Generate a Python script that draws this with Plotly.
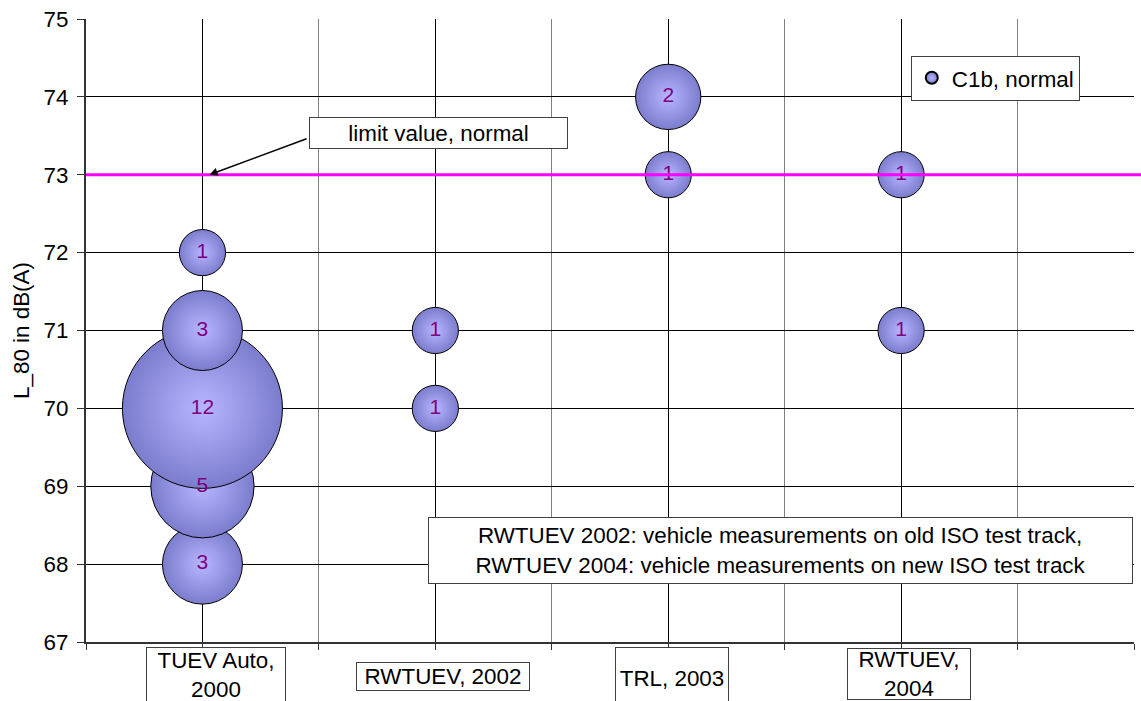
import plotly.graph_objects as go

# ---------------- data ----------------
SOURCES = ["TUEV Auto,<br>2000", "RWTUEV, 2002", "TRL, 2003", "RWTUEV,<br>2004"]
SOURCE_X = [1, 3, 5, 7]

BUBBLE_SOURCE = [0, 0, 0, 0, 0, 1, 1, 2, 2, 3, 3]
BUBBLE_L80 = [68, 69, 70, 71, 72, 70, 71, 73, 74, 71, 73]
BUBBLE_COUNT = [3, 5, 12, 3, 1, 1, 1, 1, 2, 1, 1]

LIMIT_VALUE = 73
SERIES_NAME = "C1b, normal"
LIMIT_LABEL = "limit value, normal"
NOTE_LINES = [
    "RWTUEV 2002: vehicle measurements on old ISO test track,",
    "RWTUEV 2004: vehicle measurements on new ISO test track",
]
Y_TITLE = "L_80 in dB(A)"
Y_RANGE = [67, 75]
X_RANGE = [0, 9]

# ---------------- styling ----------------
FONT = "Arial, 'Liberation Sans', sans-serif"
FS = 22.4

bx = [SOURCE_X[s] for s in BUBBLE_SOURCE]

fig = go.Figure()
fig.add_trace(go.Scatter(
    x=bx, y=BUBBLE_L80,
    mode="markers+text",
    text=[str(c) for c in BUBBLE_COUNT],
    textposition="middle center",
    textfont=dict(family=FONT, size=21, color="#800080"),
    marker=dict(
        size=BUBBLE_COUNT, sizemode="area", sizeref=1 / (2 * 23.1 ** 2),
        color="#7C7CCE",
        gradient=dict(type="radial", color="#B6B6FF"),
        line=dict(color="black", width=1),
        opacity=1,
    ),
    name=SERIES_NAME,
    showlegend=True,
    cliponaxis=False,
))

annotations = []
# category label boxes
xshifts = [14, 8, 4, 8]
widths = [138, 172, 112, 122]
heights = [54, 27, 60, 50]
yshifts = [-5, -20, -5, -6]
for i, lab in enumerate(SOURCES):
    annotations.append(dict(
        x=SOURCE_X[i], y=0, xref="x", yref="paper",
        xanchor="center", yanchor="top",
        xshift=xshifts[i], yshift=yshifts[i],
        text=lab, showarrow=False,
        width=widths[i], height=heights[i], valign="middle",
        font=dict(family=FONT, size=FS, color="black"),
        bordercolor="#404040", borderwidth=1, borderpad=0,
        bgcolor="white",
    ))

# arrow to limit line
annotations.append(dict(
    x=SOURCE_X[0] + 0.06, y=LIMIT_VALUE, xref="x", yref="y",
    ax=1.907, ay=LIMIT_VALUE + 0.47, axref="x", ayref="y",
    text="", showarrow=True, arrowhead=2, arrowsize=1.1,
    arrowwidth=1.5, arrowcolor="black",
))
# limit label box
annotations.append(dict(
    x=3.027, y=LIMIT_VALUE + 0.536, xref="x", yref="y",
    xanchor="center", yanchor="middle",
    text=LIMIT_LABEL, showarrow=False,
    width=257, height=30,
    font=dict(family=FONT, size=FS, color="black"),
    bordercolor="#404040", borderwidth=1, borderpad=0, bgcolor="white",
))
# note box
annotations.append(dict(
    x=5.965, y=68.175, xref="x", yref="y",
    xanchor="center", yanchor="middle",
    text="<br>".join(NOTE_LINES), showarrow=False,
    width=703, height=65,
    font=dict(family=FONT, size=FS, color="black"),
    bordercolor="#404040", borderwidth=1, borderpad=0, bgcolor="white",
))

shapes = [dict(
    type="line", xref="paper", yref="y",
    x0=0, x1=1.01, y0=LIMIT_VALUE, y1=LIMIT_VALUE,
    line=dict(color="#FF00FF", width=3), layer="above",
)]

fig.update_layout(
    width=1141, height=701, autosize=False,
    margin=dict(l=86, r=7, t=19, b=59, pad=0),
    paper_bgcolor="white", plot_bgcolor="white",
    font=dict(family=FONT, size=FS, color="black"),
    showlegend=True,
    legend=dict(
        x=0.787, y=0.941, xanchor="left", yanchor="top",
        bgcolor="white", bordercolor="#404040", borderwidth=1,
        font=dict(family=FONT, size=FS, color="black"),
        itemsizing="constant",
    ),
    annotations=annotations,
    shapes=shapes,
    xaxis=dict(
        range=X_RANGE, tick0=1, dtick=2,
        showgrid=True, gridcolor="black", gridwidth=1,
        showticklabels=False, ticks="outside", ticklen=6, tickcolor="#333",
        showline=True, linecolor="#333", linewidth=2,
        zeroline=False, automargin=False,
        minor=dict(dtick=1, tick0=0, showgrid=True, gridcolor="#808080",
                   gridwidth=1, ticks="outside", ticklen=6, tickcolor="#333"),
    ),
    yaxis=dict(
        range=Y_RANGE, dtick=1, tick0=67,
        showgrid=True, gridcolor="black", gridwidth=1,
        ticks="outside", ticklen=7, tickcolor="#333",
        ticklabelstandoff=4,
        tickfont=dict(family=FONT, size=FS, color="black"),
        showline=True, linecolor="#333", linewidth=2,
        zeroline=False, automargin=False,
        title=dict(text=Y_TITLE, font=dict(family=FONT, size=FS, color="black"),
                   standoff=8),
    ),
)

fig.write_html(
    "out.html",
    config={"displayModeBar": False},
    post_script="document.body.style.margin='0';document.body.style.overflow='hidden';",
)
